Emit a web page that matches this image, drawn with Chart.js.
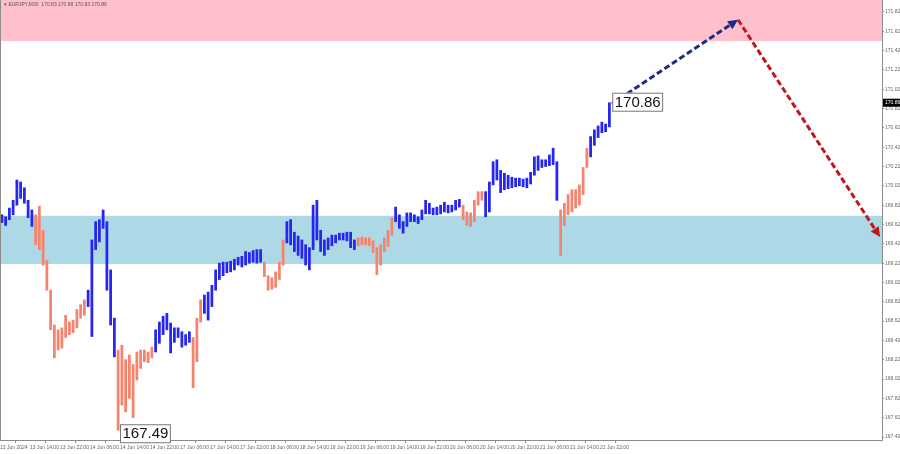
<!DOCTYPE html>
<html>
<head>
<meta charset="utf-8">
<script src="https://cdn.jsdelivr.net/npm/chart.js@4.4.0/dist/chart.umd.min.js"></script>
<style>
html, body { margin: 0; padding: 0; background: #fff; }
#wrap { position: relative; width: 900px; height: 454px; }
</style>
</head>
<body>
<div id="wrap"><canvas id="chart"></canvas></div>
<script>
// EURJPY M30, one column per hour (high / low)
var highs = [
	169.72, 169.70, 169.79, 169.87, 170.08, 170.06, 170.00, 169.87, 169.77, 169.72,
	169.81, 169.56, 169.25, 168.94, 168.58, 168.53, 168.55, 168.68, 168.61, 168.63,
	168.74, 168.79, 168.84, 168.94, 169.46, 169.65, 169.67, 169.77, 169.65, 169.15,
	168.65, 168.32, 168.37, 168.22, 168.27, 168.17, 168.30, 168.32, 168.32, 168.30,
	168.35, 168.53, 168.61, 168.67, 168.70, 168.60, 168.55, 168.55, 168.51, 168.48,
	168.51, 168.45, 168.65, 168.84, 168.89, 168.92, 168.99, 169.15, 169.22, 169.23,
	169.23, 169.24, 169.26, 169.28, 169.29, 169.34, 169.33, 169.35, 169.36, 169.36,
	169.23, 169.09, 169.07, 169.13, 169.23, 169.46, 169.65, 169.67, 169.54, 169.50,
	169.46, 169.41, 169.38, 169.82, 169.87, 169.56, 169.46, 169.48, 169.51, 169.51,
	169.53, 169.53, 169.54, 169.54, 169.46, 169.48, 169.49, 169.48, 169.48, 169.45,
	169.38, 169.41, 169.48, 169.56, 169.69, 169.80, 169.72, 169.65, 169.74, 169.74,
	169.72, 169.70, 169.77, 169.87, 169.84, 169.79, 169.80, 169.82, 169.85, 169.82,
	169.82, 169.87, 169.88, 169.82, 169.75, 169.74, 169.87, 169.96, 169.96, 169.96,
	170.06, 170.27, 170.29, 170.18, 170.15, 170.13, 170.11, 170.10, 170.10, 170.09,
	170.10, 170.16, 170.32, 170.33, 170.29, 170.29, 170.34, 170.41, 170.27, 169.77,
	169.84, 169.93, 169.98, 169.98, 170.03, 170.21, 170.41, 170.53, 170.60, 170.64,
	170.68, 170.66, 170.88
];
var lows = [
	169.64, 169.61, 169.67, 169.72, 169.82, 169.89, 169.84, 169.69, 169.60, 169.41,
	169.36, 169.20, 168.94, 168.53, 168.24, 168.32, 168.34, 168.45, 168.48, 168.50,
	168.55, 168.65, 168.68, 168.77, 168.46, 169.36, 169.44, 169.58, 168.94, 168.58,
	168.25, 167.49, 167.75, 167.68, 167.82, 167.62, 168.01, 168.13, 168.20, 168.19,
	168.24, 168.30, 168.39, 168.48, 168.53, 168.29, 168.40, 168.45, 168.35, 168.37,
	168.40, 167.93, 168.20, 168.61, 168.70, 168.63, 168.77, 168.94, 169.05, 169.09,
	169.12, 169.13, 169.15, 169.20, 169.18, 169.20, 169.22, 169.23, 169.22, 169.23,
	169.08, 168.94, 168.95, 168.97, 169.05, 169.20, 169.43, 169.41, 169.34, 169.30,
	169.27, 169.20, 169.15, 169.36, 169.46, 169.34, 169.30, 169.36, 169.40, 169.43,
	169.46, 169.46, 169.45, 169.38, 169.36, 169.40, 169.41, 169.41, 169.40, 169.33,
	169.10, 169.20, 169.34, 169.39, 169.51, 169.65, 169.58, 169.53, 169.60, 169.65,
	169.65, 169.63, 169.67, 169.73, 169.73, 169.72, 169.72, 169.73, 169.75, 169.74,
	169.75, 169.77, 169.80, 169.67, 169.61, 169.60, 169.65, 169.82, 169.87, 169.70,
	169.75, 170.03, 170.08, 169.95, 169.98, 169.99, 170.00, 170.01, 170.02, 170.01,
	170.00, 170.04, 170.13, 170.18, 170.21, 170.22, 170.23, 170.24, 169.87, 169.30,
	169.61, 169.72, 169.75, 169.79, 169.82, 169.93, 170.21, 170.32, 170.44, 170.52,
	170.57, 170.58, 170.63
];
// column where each wave starts; waves alternate up (blue) / down (salmon)
var waveStarts = [0, 9, 23, 31, 41, 51, 54, 70, 76, 95, 105, 123, 129, 149, 157];
var timeLabels = [
	'13 Jun 2024', '13 Jun 14:00', '13 Jun 22:00', '14 Jun 06:00', '14 Jun 14:00',
	'14 Jun 22:00', '17 Jun 06:00', '17 Jun 14:00', '17 Jun 22:00', '18 Jun 06:00',
	'18 Jun 14:00', '18 Jun 22:00', '19 Jun 06:00', '19 Jun 14:00', '19 Jun 22:00',
	'20 Jun 06:00', '20 Jun 14:00', '20 Jun 22:00', '21 Jun 06:00', '21 Jun 14:00',
	'21 Jun 22:00'
];
var priceTicks = [
	167.42, 167.62, 167.82, 168.02, 168.22, 168.42, 168.62, 168.82, 169.02, 169.22,
	169.42, 169.62, 169.82, 170.02, 170.22, 170.42, 170.62, 170.82, 171.02, 171.22,
	171.42, 171.62, 171.82
];
var resistanceZone = [171.52, 171.95];
var supportZone = [169.21, 169.71];
var forecast = [
	{ h: 163.2, p: 170.87 },
	{ h: 196.8, p: 171.74 },
	{ h: 234.7, p: 169.49 }
];
var lastClose = 170.86;
var headerText = '\u25BE EURJPY,M30  170.83 170.88 170.83 170.86';

var
	upColor = '#2626ee',
	downColor = '#f5836d',
	pink = '#ffc0cb',
	lightBlue = '#add8e6',
	axisGrey = '#8c8c8c',
	labelFont = '"Liberation Sans", Arial, sans-serif';

function colorFor(i) {
	var w = 0;
	for (var k = 0; k < waveStarts.length; k++) {
		if (i >= waveStarts[k]) w = k;
	}
	return w % 2 === 0 ? upColor : downColor;
}

var barData = [], barColors = [];
highs.forEach(function (hi, i) {
	barData.push({ x: i + 0.5, y: [lows[i], hi] });
	barColors.push(colorFor(i));
});

function dashedArrow(ctx, x1, y1, x2, y2, color) {
	var ang = Math.atan2(y2 - y1, x2 - x1), head = 11;
	var ex = x2 - Math.cos(ang) * head * 0.8, ey = y2 - Math.sin(ang) * head * 0.8;
	ctx.save();
	ctx.strokeStyle = color;
	ctx.lineWidth = 3;
	ctx.setLineDash([6, 3]);
	ctx.beginPath();
	ctx.moveTo(x1, y1);
	ctx.lineTo(ex, ey);
	ctx.stroke();
	ctx.setLineDash([]);
	ctx.fillStyle = color;
	ctx.beginPath();
	ctx.moveTo(x2, y2);
	ctx.lineTo(x2 - Math.cos(ang - 0.45) * head, y2 - Math.sin(ang - 0.45) * head);
	ctx.lineTo(x2 - Math.cos(ang + 0.45) * head, y2 - Math.sin(ang + 0.45) * head);
	ctx.closePath();
	ctx.fill();
	ctx.restore();
}

function priceBox(ctx, text, left, cy) {
	ctx.save();
	ctx.font = '15px ' + labelFont;
	var w = ctx.measureText(text).width + 4;
	ctx.fillStyle = '#fff';
	ctx.fillRect(left, cy - 9, w, 19);
	ctx.strokeStyle = '#777';
	ctx.lineWidth = 1;
	ctx.strokeRect(left + 0.5, cy - 8.5, w, 18);
	ctx.fillStyle = '#111';
	ctx.textBaseline = 'middle';
	ctx.fillText(text, left + 2.5, cy + 1);
	ctx.restore();
}

var zonesPlugin = {
	id: 'zones',
	beforeDatasetsDraw: function (chart) {
		var ctx = chart.ctx, a = chart.chartArea, y = chart.scales.y;
		ctx.save();
		[[resistanceZone, pink], [supportZone, lightBlue]].forEach(function (z) {
			var top = Math.max(a.top, y.getPixelForValue(z[0][1]));
			var bot = y.getPixelForValue(z[0][0]);
			ctx.fillStyle = z[1];
			ctx.fillRect(a.left, top, a.right - a.left, bot - top);
		});
		ctx.restore();
	},
	afterDatasetsDraw: function (chart) {
		var ctx = chart.ctx, a = chart.chartArea, x = chart.scales.x, y = chart.scales.y;
		var pts = forecast.map(function (f) {
			return { x: x.getPixelForValue(f.h), y: y.getPixelForValue(f.p) };
		});
		dashedArrow(ctx, pts[0].x, pts[0].y, pts[1].x, pts[1].y, '#1c2a8c');
		dashedArrow(ctx, pts[1].x, pts[1].y, pts[2].x, pts[2].y, '#c0161e');

		// low and last price labels
		var lowIdx = lows.indexOf(Math.min.apply(null, lows));
		priceBox(ctx, lows[lowIdx].toFixed(2), x.getPixelForValue(lowIdx + 1), y.getPixelForValue(lows[lowIdx]) + 3);
		var last = highs.length;
		priceBox(ctx, lastClose.toFixed(2), x.getPixelForValue(last) + 1, y.getPixelForValue(lastClose) - 3);

		// frame left edge
		ctx.save();
		ctx.strokeStyle = axisGrey;
		ctx.lineWidth = 1;
		ctx.beginPath();
		ctx.moveTo(a.left + 0.5, a.top);
		ctx.lineTo(a.left + 0.5, a.bottom);
		ctx.stroke();

		// current price marker on the axis
		var cy = y.getPixelForValue(lastClose) - 2;
		ctx.fillStyle = '#000';
		ctx.fillRect(a.right + 1, cy - 4, 17, 8);
		ctx.fillStyle = '#fff';
		ctx.font = '5px ' + labelFont;
		ctx.textBaseline = 'middle';
		ctx.fillText(lastClose.toFixed(2), a.right + 3, cy);

		ctx.fillStyle = '#555';
		ctx.font = '5px ' + labelFont;
		ctx.fillText(headerText, a.left + 4, a.top + 5);
		ctx.restore();
	}
};

var ctx = document.getElementById('chart').getContext('2d');
var chart = new Chart(ctx, {
	type: 'bar',
	data: {
		datasets: [{
			data: barData,
			backgroundColor: barColors,
			borderWidth: 0,
			barThickness: 2.1,
			grouped: false
		}]
	},
	plugins: [zonesPlugin],
	options: {
		responsive: true,
		maintainAspectRatio: false,
		animation: false,
		layout: { padding: 0 },
		plugins: {
			legend: { display: false },
			tooltip: { enabled: false }
		},
		scales: {
			x: {
				type: 'linear',
				min: 0,
				max: 235.2,
				offset: false,
				grid: { drawOnChartArea: false, tickLength: 3, color: axisGrey },
				border: { color: axisGrey },
				afterBuildTicks: function (s) {
					s.ticks = timeLabels.map(function (t, i) { return { value: i * 8 }; });
				},
				afterFit: function (s) {
					s.height = 14;
					s.paddingLeft = 0;
					s.paddingRight = 0;
				},
				ticks: {
					autoSkip: false,
					maxRotation: 0,
					align: 'start',
					padding: 2,
					color: '#666',
					font: { size: 5, family: labelFont },
					callback: function (v) { return timeLabels[Math.round(v / 8)]; }
				}
			},
			y: {
				position: 'right',
				min: 167.389,
				max: 171.944,
				grid: { drawOnChartArea: false, tickLength: 2, color: axisGrey },
				border: { color: axisGrey },
				afterBuildTicks: function (s) {
					s.ticks = priceTicks.map(function (p) { return { value: p }; });
				},
				afterFit: function (s) {
					s.width = 18;
					s.paddingTop = 0;
					s.paddingBottom = 0;
				},
				ticks: {
					padding: 1,
					color: '#666',
					font: { size: 5, family: labelFont },
					callback: function (v) { return v.toFixed(2); }
				}
			}
		}
	}
});
</script>
</body>
</html>
